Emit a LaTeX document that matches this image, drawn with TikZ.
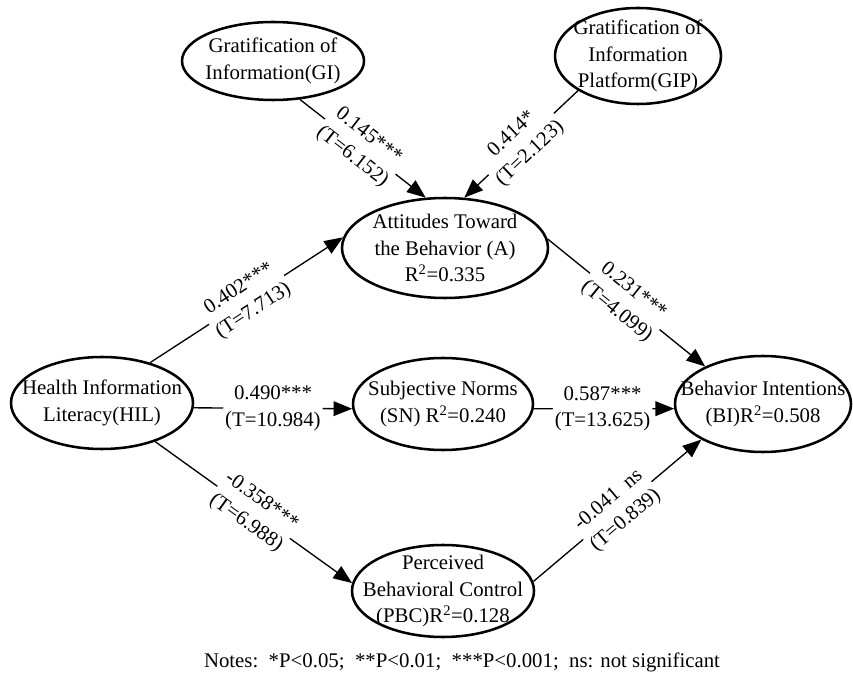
\documentclass[tikz,border=0pt]{standalone}
\usepackage{fontspec}
\setmainfont{Liberation Serif}
\usetikzlibrary{shapes.geometric,arrows.meta}
\tikzset{
  oval/.style={ellipse,draw,line width=1.9pt,inner sep=0pt},
  txt/.style={align=center,font=\fontsize{15.6}{19.9}\selectfont,inner sep=0pt},
  conn/.style={line width=1pt,-{Triangle[length=14pt,width=11pt]}},
  lab/.style={txt,sloped,fill=white,inner sep=1.5pt}
}
\begin{document}
\begin{tikzpicture}[x=0.75pt,y=-0.75pt]
\useasboundingbox (0,0) rectangle (853,680);
% ellipses
\node[oval,minimum width=136.5pt,minimum height=58.5pt] (GI) at (273,61) {};
\node[txt] (GIt) at (GI) {Gratification of\\Information(GI)};
\node[oval,minimum width=124.5pt,minimum height=72pt] (GIP) at (638,56) {};
\node[txt] (GIPt) at (GIP) {Gratification of\\Information\\Platform(GIP)};
\node[oval,minimum width=154.5pt,minimum height=75pt] (A) at (445,248) {};
\node[txt] (At) at (A) {Attitudes Toward\\the Behavior (A)\\R\textsuperscript{2}=0.335};
\node[oval,minimum width=136.5pt,minimum height=69pt] (HIL) at (102,403) {};
\node[txt] (HILt) at (HIL) {Health Information\\Literacy(HIL)};
\node[oval,minimum width=135pt,minimum height=69pt] (SN) at (443,404) {};
\node[txt] (SNt) at (SN) {Subjective Norms\\(SN) R\textsuperscript{2}=0.240};
\node[oval,minimum width=132pt,minimum height=72pt] (BI) at (763,404) {};
\node[txt] (BIt) at (BI) {Behavior Intentions\\(BI)R\textsuperscript{2}=0.508};
\node[oval,minimum width=136.5pt,minimum height=69pt] (PBC) at (443,591) {};
\node[txt] (PBCt) at (PBC) {Perceived\\Behavioral Control\\(PBC)R\textsuperscript{2}=0.128};
% connectors
\draw[conn] (GI.-55) -- node[lab,pos=0.48] {0.145***\\(T=6.152)} (A.111);
\draw[conn] (GIP.210) -- node[lab,pos=0.5] {0.414*\\(T=2.123)} (A.69);
\draw[conn] (HIL.40) -- node[lab,pos=0.5] {0.402***\\(T=7.713)} (A.174);
\draw[conn] (A.5) -- node[lab,pos=0.49] {0.231***\\(T=4.099)} (BI.147);
\draw[conn] (HIL.-3) -- node[lab,pos=0.5] {0.490***\\(T=10.984)} (SN.183);
\draw[conn] (SN.-3) -- node[lab,pos=0.49] {0.587***\\(T=13.625)} (BI.183);
\draw[conn] (HIL.-36) -- node[lab,pos=0.5] {-0.358***\\(T=6.988)} (PBC.175);
\draw[conn] (PBC.6) -- node[lab,pos=0.5] {-0.041~~ns\\(T=0.839)} (BI.210);
% notes
\node[txt] (notes) at (462,662) {Notes:~~*P<0.05;~~**P<0.01;~~***P<0.001;~~ns: not significant};
\end{tikzpicture}
\end{document}
